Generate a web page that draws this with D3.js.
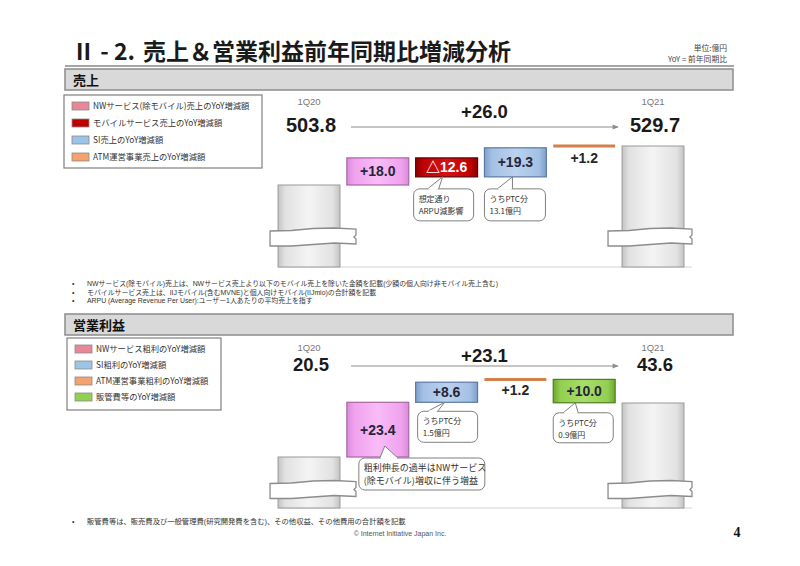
<!DOCTYPE html>
<html><head><meta charset="utf-8">
<script src="https://cdn.jsdelivr.net/npm/d3@7"></script>
<style>
body{margin:0;background:#fff;}
svg{display:block;}
</style></head><body>
<svg id="chart" width="800" height="566"></svg>
<script>
// ---------------- DATA ----------------
const titleNum = "Ⅱ - 2.";
const titleText = "売上＆営業利益前年同期比増減分析";
const unitLines = ["単位:億円", "YoY = 前年同期比"];

const salesHeader = "売上";
const salesCategories = ["1Q20", "NWサービス(除モバイル)", "モバイルサービス", "SI", "ATM運営事業", "1Q21"];
const salesStart = 503.8;
const salesEnd = 529.7;
const salesTotal = "+26.0";
const salesDeltas = [18.0, -12.6, 19.3, 1.2];
const salesDeltaLabels = ["+18.0", "△12.6", "+19.3", "+1.2"];
const salesMarks = ["box", "box", "box", "line"];
const salesColors = ["pink", "red", "blue", "orange"];
const salesLegend = ["NWサービス(除モバイル)売上のYoY増減額", "モバイルサービス売上のYoY増減額", "SI売上のYoY増減額", "ATM運営事業売上のYoY増減額"];
const salesLegendColors = ["#E8879A", "#C00000", "#9DC3E6", "#F6A26E"];
const salesNotes = [
  "NWサービス(除モバイル)売上は、NWサービス売上より以下のモバイル売上を除いた金額を記載(少額の個人向け非モバイル売上含む)",
  "モバイルサービス売上は、IIJモバイル(含むMVNE)と個人向けモバイル(IIJmio)の合計額を記載",
  "ARPU (Average Revenue Per User):ユーザー1人あたりの平均売上を指す"
];
const salesCalloutCats = ["モバイルサービス", "SI"];
const salesCalloutTexts = [["想定通り", "ARPU減影響"], ["うちPTC分", "13.1億円"]];

const profitHeader = "営業利益";
const profitCategories = ["1Q20", "NWサービス粗利", "SI粗利", "ATM運営事業粗利", "販管費等", "1Q21"];
const profitStart = 20.5;
const profitEnd = 43.6;
const profitTotal = "+23.1";
const profitDeltas = [23.4, 8.6, 1.2, -10.0];
const profitDeltaLabels = ["+23.4", "+8.6", "+1.2", "+10.0"];
const profitMarks = ["box", "box", "line", "box"];
const profitColors = ["pink", "blue", "orange", "green"];
const profitLegend = ["NWサービス粗利のYoY増減額", "SI粗利のYoY増減額", "ATM運営事業粗利のYoY増減額", "販管費等のYoY増減額"];
const profitLegendColors = ["#E8879A", "#9DC3E6", "#F6A26E", "#92D050"];
const profitNotes = ["販管費等は、販売費及び一般管理費(研究開発費を含む)、その他収益、その他費用の合計額を記載"];
const profitCalloutCats = ["SI粗利", "販管費等", "NWサービス粗利"];
const profitCalloutTexts = [["うちPTC分", "1.5億円"], ["うちPTC分", "0.9億円"], ["粗利伸長の過半はNWサービス", "(除モバイル)増収に伴う増益"]];

const copyright = "© Internet Initiative Japan Inc.";
const pageNo = "4";

// ---------------- STYLE ----------------
const JP = "'Noto Sans CJK JP','Noto Sans',sans-serif";
const LAT = "'Liberation Sans',Arial,'Noto Sans CJK JP',sans-serif";
const palette = {
  pink:  {dark:"#D88BD6", mid:"#F0A2EE", light:"#F8BCF6", stroke:"#A866A6"},
  red:   {dark:"#8E0000", mid:"#C00000", light:"#D61212", stroke:"#5E0000"},
  blue:  {dark:"#809FC8", mid:"#A3C0E4", light:"#BBD2EE", stroke:"#5A7AA5"},
  green: {dark:"#6FA635", mid:"#92D050", light:"#A8DC6C", stroke:"#4E7D22"},
  gray:  {dark:"#C4C4C4", mid:"#E2E2E2", light:"#F4F4F4", stroke:"#9A9A9A"}
};
const orangeLine = "#D4804A";

const svg = d3.select("#chart");
const defs = svg.append("defs");
Object.entries(palette).forEach(([k, c]) => {
  const gr = defs.append("linearGradient").attr("id", "g-" + k).attr("x1", 0).attr("x2", 1).attr("y1", 0).attr("y2", 0);
  [[0, c.dark], [0.12, c.mid], [0.5, c.light], [0.88, c.mid], [1, c.dark]].forEach(([o, col]) =>
    gr.append("stop").attr("offset", o).attr("stop-color", col));
});
const marker = defs.append("marker").attr("id", "arrow").attr("viewBox", "0 0 10 10")
  .attr("refX", 9).attr("refY", 5).attr("markerWidth", 7).attr("markerHeight", 6).attr("orient", "auto")
  .attr("markerUnits", "userSpaceOnUse");
marker.append("path").attr("d", "M0,1 L10,5 L0,9 Z").attr("fill", "#8C8C8C");

// ---------------- PAGE FRAME ----------------
svg.append("text").attr("x", 72).attr("y", 60).attr("font-family", JP).attr("font-weight", 700)
  .attr("font-size", 23).attr("fill", "#1a1a1a").text(titleNum);
svg.append("text").attr("x", 143).attr("y", 60).attr("font-family", JP).attr("font-weight", 700)
  .attr("font-size", 23).attr("fill", "#1a1a1a").text(titleText);
unitLines.forEach((t, i) => svg.append("text").attr("x", 727).attr("y", 51 + i * 10.5)
  .attr("text-anchor", "end").attr("font-family", JP).attr("font-size", 7.8).attr("fill", "#444").text(t));
svg.append("line").attr("x1", 65).attr("x2", 734).attr("y1", 66).attr("y2", 66)
  .attr("stroke", "#A6A6A6").attr("stroke-width", 2);

function sectionHeader(y, label) {
  svg.append("rect").attr("x", 65).attr("y", y).attr("width", 668).attr("height", 21)
    .attr("fill", "#D9D9D9").attr("stroke", "#8C8C8C").attr("stroke-width", 1.5);
  svg.append("text").attr("x", 73).attr("y", y + 15.5).attr("font-family", JP).attr("font-weight", 700)
    .attr("font-size", 13).attr("fill", "#111").text(label);
}

function notes(list, y0, step, fs) {
  list.forEach((t, i) => {
    svg.append("text").attr("x", 72).attr("y", y0 + i * step).attr("font-family", LAT)
      .attr("font-size", 7).attr("fill", "#333").text("•");
    svg.append("text").attr("x", 87).attr("y", y0 + i * step).attr("font-family", LAT)
      .attr("font-size", fs).attr("fill", "#333").text(t);
  });
}

function legend(items, colors, box, step) {
  svg.append("rect").attr("x", box.x).attr("y", box.y).attr("width", box.w).attr("height", box.h)
    .attr("fill", "#fff").attr("stroke", "#7F7F7F").attr("stroke-width", 1.2);
  items.forEach((t, i) => {
    const cy = box.y + 11 + i * step;
    svg.append("rect").attr("x", box.x + 8).attr("y", cy - 4).attr("width", 17).attr("height", 8)
      .attr("fill", colors[i]).attr("stroke", "#8a8a8a").attr("stroke-width", 0.8);
    svg.append("text").attr("x", box.x + 29).attr("y", cy + 3).attr("font-family", JP)
      .attr("font-size", 8.3).attr("fill", "#333").text(t);
  });
}

function breakShape(x0, x1, yc) {
  const w = x1 - x0;
  const pts = [
    [x0, yc - 6], [x0 + 0.25 * w, yc - 6.5], [x0 + 0.5 * w, yc - 8.5], [x0 + 0.75 * w, yc - 9], [x1, yc - 8],
    [x1, yc - 2], [x1 - 2, yc], [x1, yc + 2], [x1, yc + 7],
    [x0 + 0.75 * w, yc + 6], [x0 + 0.5 * w, yc + 7.5], [x0 + 0.25 * w, yc + 9], [x0, yc + 9]
  ];
  svg.append("path").attr("d", d3.line()(pts) + "Z").attr("fill", "#fff")
    .attr("stroke", "#8C8C8C").attr("stroke-width", 1.3);
}

function callout(bx, by, w, h, tip, b0, b1, lines, fs, lh, pad) {
  svg.append("rect").attr("x", bx).attr("y", by).attr("width", w).attr("height", h).attr("rx", 6)
    .attr("fill", "#fff").attr("stroke", "#7F7F7F").attr("stroke-width", 1);
  svg.append("path").attr("d", `M${b0},${by} L${tip[0]},${tip[1]} L${b1},${by}`)
    .attr("fill", "#fff").attr("stroke", "#7F7F7F").attr("stroke-width", 1);
  svg.append("line").attr("x1", b0 + 1).attr("x2", b1 - 1).attr("y1", by).attr("y2", by)
    .attr("stroke", "#fff").attr("stroke-width", 2);
  lines.forEach((t, i) => svg.append("text").attr("x", bx + pad).attr("y", by + 13 + i * lh)
    .attr("font-family", JP).attr("font-size", fs).attr("fill", "#333").text(t));
}

function drawWaterfall(o) {
  const cats = o.categories;
  const x = d3.scaleBand().domain(cats).range([274.6, 687.4]).paddingInner(0.1).paddingOuter(0.05);
  const y = d3.scaleLinear().domain([o.start, o.end]).range(o.yRange);
  const bw = x.bandwidth();
  const first = cats[0], last = cats[cats.length - 1];

  // floor
  svg.append("line").attr("x1", x(first)).attr("x2", x(last) + bw + 8)
    .attr("y1", o.floor).attr("y2", o.floor).attr("stroke", "#D4D4D4").attr("stroke-width", 1.2);

  // start / end bars
  [[first, o.start], [last, o.end]].forEach(([c, v]) => {
    svg.append("rect").attr("x", x(c)).attr("y", y(v)).attr("width", bw).attr("height", o.floor - y(v))
      .attr("fill", "url(#g-gray)").attr("stroke", palette.gray.stroke).attr("stroke-width", 1);
  });
  breakShape(x(first) - 8, x(first) + bw + 16, o.breakY);
  breakShape(x(last) - 14, x(last) + bw + 8, o.breakY);

  // deltas
  const bottoms = {};
  let run = o.start;
  o.deltas.forEach((d, i) => {
    const c = cats[i + 1];
    const a = run, b = run + d;
    run = b;
    const cx = x(c) + bw / 2;
    if (o.marks[i] === "box") {
      const top = y(Math.max(a, b)), bot = y(Math.min(a, b));
      bottoms[c] = bot;
      const k = o.colors[i];
      svg.append("rect").attr("x", x(c)).attr("y", top).attr("width", bw).attr("height", bot - top)
        .attr("fill", `url(#g-${k})`).attr("stroke", palette[k].stroke).attr("stroke-width", 1.2);
      svg.append("text").attr("x", cx).attr("y", (top + bot) / 2 + 5).attr("text-anchor", "middle")
        .attr("font-family", LAT).attr("font-weight", 700).attr("font-size", 14)
        .attr("fill", k === "red" ? "#fff" : "#262638").text(o.labels[i]);
    } else {
      bottoms[c] = y(b);
      svg.append("line").attr("x1", x(c)).attr("x2", x(c) + bw).attr("y1", y(b)).attr("y2", y(b))
        .attr("stroke", orangeLine).attr("stroke-width", 3);
      svg.append("text").attr("x", cx).attr("y", y(b) + o.lineLabelGap).attr("text-anchor", "middle")
        .attr("font-family", LAT).attr("font-weight", 700).attr("font-size", 14)
        .attr("fill", "#262626").text(o.labels[i]);
    }
  });

  // heading numbers
  [[first, o.start], [last, o.end]].forEach(([c, v]) => {
    const cx = x(c) + bw / 2 + 2;
    svg.append("text").attr("x", cx - 2).attr("y", o.labelY).attr("text-anchor", "middle")
      .attr("font-family", LAT).attr("font-size", 9.5).attr("fill", "#777").text(c);
    svg.append("text").attr("x", cx).attr("y", o.numY).attr("text-anchor", "middle")
      .attr("font-family", LAT).attr("font-weight", 700).attr("font-size", o.numSize).attr("fill", "#1a1a1a")
      .text(d3.format(".1f")(v));
  });
  const ax0 = x(first) + bw + 11, ax1 = x(last) - 4;
  svg.append("line").attr("x1", ax0).attr("x2", ax1).attr("y1", o.arrowY).attr("y2", o.arrowY)
    .attr("stroke", "#8C8C8C").attr("stroke-width", 1).attr("marker-end", "url(#arrow)");
  svg.append("text").attr("x", (ax0 + ax1) / 2).attr("y", o.totalY).attr("text-anchor", "middle")
    .attr("font-family", LAT).attr("font-weight", 700).attr("font-size", 18.5).attr("fill", "#1a1a1a")
    .text(o.total);

  // callouts
  o.calloutCats.forEach((c, i) => {
    const L = o.calloutLayout[i];
    const bx = x(c) + L.dx, by = bottoms[c] + L.gap;
    callout(bx, by, L.w, L.h, [x(c) + L.tip, bottoms[c] + L.tipDy], x(c) + L.b0, x(c) + L.b1,
      o.calloutTexts[i], L.fs, L.lh, L.pad);
  });
}

// ---------------- SALES ----------------
sectionHeader(69, salesHeader);
legend(salesLegend, salesLegendColors, {x: 64, y: 95, w: 198, h: 73}, 17);
drawWaterfall({
  categories: salesCategories, start: salesStart, end: salesEnd, total: salesTotal,
  deltas: salesDeltas, labels: salesDeltaLabels, marks: salesMarks, colors: salesColors,
  calloutCats: salesCalloutCats, calloutTexts: salesCalloutTexts,
  calloutLayout: [
    {dx: -2, w: 60, h: 32, gap: 12, tip: 27, tipDy: 0, b0: 12, b1: 23, fs: 8, lh: 12, pad: 5},
    {dx: 0, w: 61, h: 32, gap: 12, tip: 28, tipDy: 0, b0: 13, b1: 28, fs: 8, lh: 12, pad: 5}
  ],
  yRange: [185, 146], floor: 267, breakY: 237,
  labelY: 105, numY: 132, numSize: 20, arrowY: 127, totalY: 118, lineLabelGap: 17
});
notes(salesNotes, 286, 8.5, 6.9);

// ---------------- OPERATING PROFIT ----------------
sectionHeader(314, profitHeader);
legend(profitLegend, profitLegendColors, {x: 67, y: 338, w: 154, h: 72}, 16);
drawWaterfall({
  categories: profitCategories, start: profitStart, end: profitEnd, total: profitTotal,
  deltas: profitDeltas, labels: profitDeltaLabels, marks: profitMarks, colors: profitColors,
  calloutCats: profitCalloutCats, calloutTexts: profitCalloutTexts,
  calloutLayout: [
    {dx: 2, w: 60, h: 31, gap: 9, tip: 29, tipDy: 0, b0: 12, b1: 22, fs: 8, lh: 12, pad: 5},
    {dx: 0, w: 60, h: 30, gap: 10, tip: 22, tipDy: 0, b0: 10, b1: 25, fs: 8, lh: 12, pad: 5},
    {dx: 12, w: 126, h: 32, gap: 1, tip: 38, tipDy: -11, b0: 33, b1: 51, fs: 9, lh: 12.5, pad: 5}
  ],
  yRange: [457, 403], floor: 508, breakY: 489.5,
  labelY: 351, numY: 371, numSize: 18.5, arrowY: 366, totalY: 362, lineLabelGap: 16
});
notes(profitNotes, 524, 8, 7.3);

// ---------------- FOOTER ----------------
svg.append("text").attr("x", 400).attr("y", 536).attr("text-anchor", "middle")
  .attr("font-family", LAT).attr("font-size", 7).attr("fill", "#555").text(copyright);
svg.append("text").attr("x", 737).attr("y", 537).attr("text-anchor", "middle")
  .attr("font-family", "'Liberation Serif','DejaVu Serif',serif").attr("font-weight", 700)
  .attr("font-size", 14).attr("fill", "#111").text(pageNo);
</script>
</body></html>
